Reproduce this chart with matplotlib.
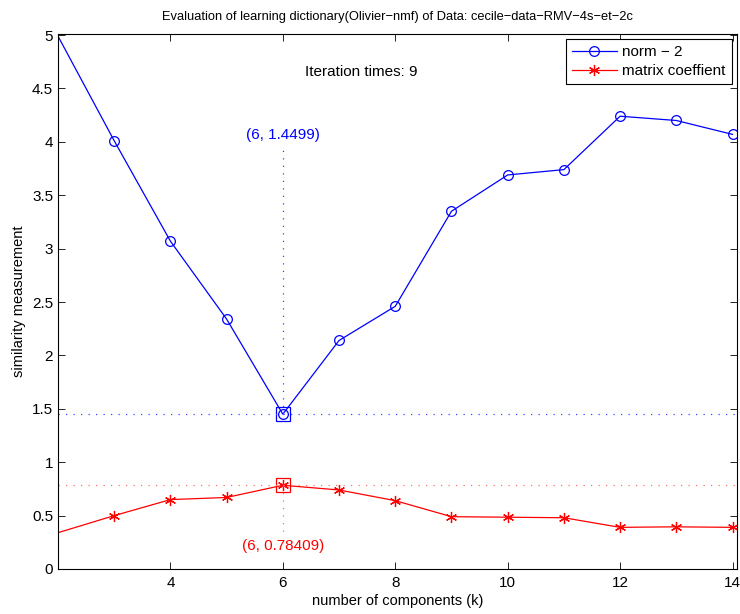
import matplotlib
matplotlib.use("Agg")
import matplotlib.pyplot as plt

plt.rcParams['font.family'] = ['Liberation Sans', 'DejaVu Sans']

k = [2, 3, 4, 5, 6, 7, 8, 9, 10, 11, 12, 13, 14]
norm2 = [4.99, 4.01, 3.07, 2.34, 1.4499, 2.14, 2.46, 3.35, 3.69, 3.74, 4.24, 4.20, 4.07]
coef = [0.34, 0.50, 0.65, 0.67, 0.78409, 0.74, 0.64, 0.49, 0.485, 0.48, 0.39, 0.395, 0.39]
best_k = 6
best_norm = 1.4499
best_coef = 0.78409
xticks = [4, 6, 8, 10, 12, 14]
yticks = [0, 0.5, 1, 1.5, 2, 2.5, 3, 3.5, 4, 4.5, 5]

fig = plt.figure(figsize=(7.4, 6.14), dpi=100)
ax = fig.add_axes([58/740, 1 - 569/614, (737-58)/740, (569-34)/614])

ax.plot(k, norm2, color='blue', lw=0.9, marker='o', ms=7, mfc='none', mec='blue',
        mew=0.9, markevery=list(range(1, len(k))), label='norm − 2')
ax.plot(k, coef, color='red', lw=0.9, marker=(6, 2, 0), ms=8, mfc='none', mec='red',
        mew=0.9, markevery=list(range(1, len(k))), label='matrix coeffient')

# highlighted points
ax.plot([best_k], [best_norm], marker='s', ms=10, mfc='none', mec='blue', mew=0.9, ls='none')
ax.plot([best_k], [best_coef], marker='s', ms=10, mfc='none', mec='red', mew=0.9, ls='none')

# guide lines
dot = (0, (1, 5))
ax.axhline(best_norm, color='#4040ff', ls=dot, lw=0.9)
ax.plot([best_k, best_k], [best_norm, 3.94], color='#4040ff', ls=dot, lw=0.9)
ax.axhline(best_coef, color='#ff7070', ls=dot, lw=0.9)
ax.plot([best_k, best_k], [best_coef, 0.30], color='#ff7070', ls=dot, lw=0.9)

ax.text(best_k, 4.06, '(6, 1.4499)', color='blue', ha='center', va='center', fontsize=11)
ax.text(best_k, 0.22, '(6, 0.78409)', color='red', ha='center', va='center', fontsize=11)
ax.text(7.4, 4.65, 'Iteration times: 9', color='black', ha='center', va='center', fontsize=11)

ax.set_xlim(2, 14.08)
ax.set_ylim(0, 5.01)
ax.set_xticks(xticks)
ax.set_yticks(yticks)
ax.set_yticklabels(['0', '0.5', '1', '1.5', '2', '2.5', '3', '3.5', '4', '4.5', '5'])
ax.tick_params(direction='in', top=True, right=True, labelsize=11, length=5, width=0.6)
ax.tick_params(axis='x', pad=5)
for s in ax.spines.values():
    s.set_linewidth(0.8)

ax.set_xlabel('number of components (k)', fontsize=10.5, labelpad=3)
ax.set_ylabel('similarity measurement', fontsize=10.5, labelpad=4)
ax.set_title('Evaluation of learning dictionary(Olivier−nmf) of Data: cecile−data−RMV−4s−et−2c',
             fontsize=9.3, pad=10)

leg = ax.legend(loc='upper right', fontsize=11, frameon=True, fancybox=False,
                edgecolor='black', framealpha=1, borderpad=0.4, labelspacing=0.3,
                handlelength=2.95, handletextpad=0.35, borderaxespad=0.35)
leg.get_frame().set_linewidth(0.8)

fig.savefig('out.png', dpi=100)
